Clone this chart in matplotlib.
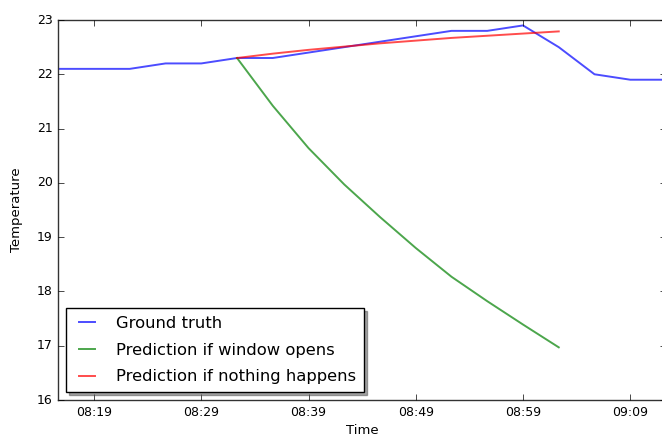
import matplotlib
matplotlib.use("Agg")
import matplotlib.pyplot as plt
import matplotlib.dates as mdates
import pandas as pd

# Data
times = ["08:15:40", "08:19:00", "08:22:20", "08:25:40", "08:29:00", "08:32:20",
         "08:35:40", "08:39:00", "08:42:20", "08:45:40", "08:49:00", "08:52:20",
         "08:55:40", "08:59:00", "09:02:20", "09:05:40", "09:09:00", "09:12:20"]
ground_truth = [22.1, 22.1, 22.1, 22.2, 22.2, 22.3, 22.3, 22.4, 22.5, 22.6,
                22.7, 22.8, 22.8, 22.9, 22.5, 22.0, 21.9, 21.9]

pred_times = times[5:15]
window_opens = [22.30, 21.42, 20.64, 19.97, 19.37, 18.80, 18.27, 17.82, 17.39, 16.97]
nothing_happens = [22.30, 22.38, 22.45, 22.51, 22.57, 22.62, 22.67, 22.71, 22.75, 22.79]

t = pd.to_datetime(["2017-01-01 " + s for s in times])
tp = pd.to_datetime(["2017-01-01 " + s for s in pred_times])

plt.style.use("classic")
fig = plt.figure(figsize=(6.62, 4.36), dpi=100, facecolor="white")
ax = fig.add_axes([58.3 / 662, 36 / 436, (666 - 58.3) / 662, 380 / 436])

ax.plot(t, ground_truth, "b", alpha=0.7, lw=1.4, label="Ground truth")
ax.plot(tp, window_opens, "g", alpha=0.7, lw=1.4, label="Prediction if window opens")
ax.plot(tp, nothing_happens, "r", alpha=0.7, lw=1.4, label="Prediction if nothing happens")

ax.set_xlim(t[0], t[-1])
ax.set_ylim(16, 23)
ax.xaxis.set_major_locator(mdates.MinuteLocator(byminute=[9, 19, 29, 39, 49, 59]))
ax.xaxis.set_major_formatter(mdates.DateFormatter("%H:%M"))
ax.tick_params(labelsize=9)
for s in ax.spines.values():
    s.set_color("0.2")

ax.set_xlabel("Time", fontsize=9.5, labelpad=4)
ax.set_ylabel("Temperature", fontsize=9.5, labelpad=10)
ax.legend(loc="lower left", shadow=True, fontsize=11.8, handlelength=1.6,
          handletextpad=1.0, borderpad=0.45, labelspacing=0.72)

plt.savefig("out.png", dpi=100, facecolor="white")
